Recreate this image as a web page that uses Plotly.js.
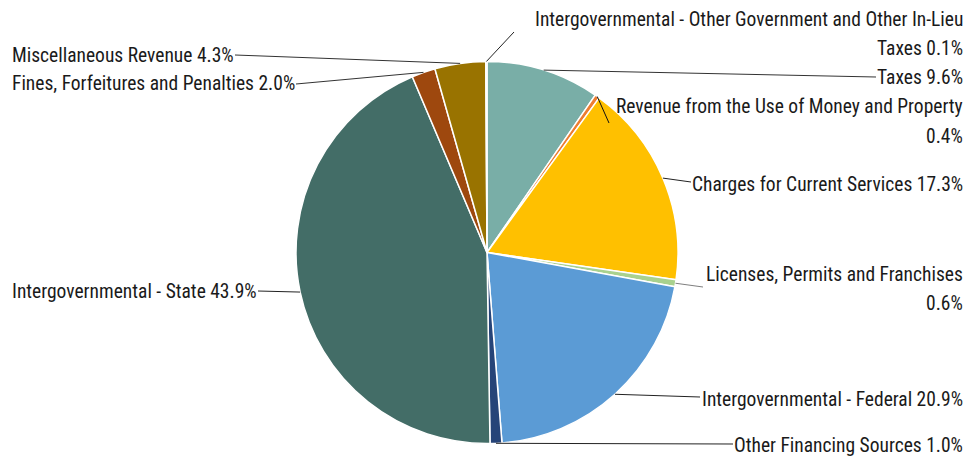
<!DOCTYPE html>
<html>
<head>
<meta charset="utf-8">
<script src="https://cdn.plot.ly/plotly-3.0.1.min.js"></script>
<style>html,body{margin:0;padding:0;background:#fff;}#chart{width:971px;height:458px;}</style>
</head>
<body>
<div id="chart"></div>
<script>
// ---- data ----
const categories = [
  "Taxes",
  "Revenue from the Use of Money and Property",
  "Charges for Current Services",
  "Licenses, Permits and Franchises",
  "Intergovernmental - Federal",
  "Other Financing Sources",
  "Intergovernmental - State",
  "Fines, Forfeitures and Penalties",
  "Miscellaneous Revenue",
  "Intergovernmental - Other Government and Other In-Lieu Taxes"
];
const values = [9.6, 0.4, 17.3, 0.6, 20.9, 1.0, 43.9, 2.0, 4.3, 0.1];
const labelLines = [
  ["Taxes 9.6%"],
  ["Revenue from the Use of Money and Property", "0.4%"],
  ["Charges for Current Services 17.3%"],
  ["Licenses, Permits and Franchises", "0.6%"],
  ["Intergovernmental - Federal 20.9%"],
  ["Other Financing Sources 1.0%"],
  ["Intergovernmental - State 43.9%"],
  ["Fines, Forfeitures and Penalties 2.0%"],
  ["Miscellaneous Revenue 4.3%"],
  ["Intergovernmental - Other Government and Other In-Lieu", "Taxes 0.1%"]
];
const colors = ["#79AEA7","#ED7D31","#FFC000","#A9D18E","#5B9BD5","#264478","#436D67","#9E480E","#997300","#C9DCD9"];

// ---- layout (pixels) ----
const W = 971, H = 458;
const cx = 487, cy = 252.5, R = 191;
// label placement: [side, y of first line, leader end x, leader end y, line color]
const place = [
  ["right", 77, 876, 77, "#333"],
  ["right", 107, 609, 123, "#111"],
  ["right", 184, 691, 182, "#222"],
  ["right", 274, 703, 287, "#7f7f7f"],
  ["right", 399, 700, 397, "#222"],
  ["right", 445, 733, 444, "#222"],
  ["left", 291, 258, 291, "#222"],
  ["left", 84, 296, 84, "#333"],
  ["left", 55, 235, 55, "#333"],
  ["right", 20, 514, 32, "#222"]
];
const lineGap = 29;
const rightEdge = 964, leftEdge = 11;
const FONT = {family: "'Roboto Condensed', sans-serif", size: 19.5, color: "#1a1a1a"};

const px = x => x / W;
const py = y => 1 - y / H;

const total = values.reduce((a, b) => a + b, 0);
const shapes = [], annotations = [];
let cum = 0;
values.forEach((v, i) => {
  const mid = (cum + v / 2) / total * 2 * Math.PI;
  cum += v;
  const ex = cx + R * Math.sin(mid), ey = cy - R * Math.cos(mid);
  const p = place[i];
  shapes.push({type: "line", xref: "paper", yref: "paper",
    x0: px(ex), y0: py(ey), x1: px(p[2]), y1: py(p[3]),
    line: {color: p[4], width: 1}});
  labelLines[i].forEach((t, k) => {
    const y = p[1] + k * lineGap;
    const right = p[0] === "right";
    annotations.push({text: t, xref: "paper", yref: "paper",
      x: px(right ? rightEdge : leftEdge), y: py(y),
      xanchor: right ? "right" : "left", yanchor: "middle",
      showarrow: false, borderpad: 0, font: FONT});
  });
});

const trace = {
  type: "pie",
  values: values,
  labels: categories,
  sort: false,
  direction: "clockwise",
  rotation: 0,
  textinfo: "none",
  hoverinfo: "label+percent",
  marker: {colors: colors, line: {color: "#ffffff", width: 1.5}},
  domain: {x: [px(cx - R), px(cx + R)], y: [py(cy + R), py(cy - R)]},
  showlegend: false
};

Plotly.newPlot("chart", [trace], {
  width: W, height: H,
  margin: {l: 0, r: 0, t: 0, b: 0},
  paper_bgcolor: "#ffffff",
  showlegend: false,
  shapes: shapes,
  annotations: annotations
}, {displayModeBar: false, staticPlot: true});
</script>
</body>
</html>
